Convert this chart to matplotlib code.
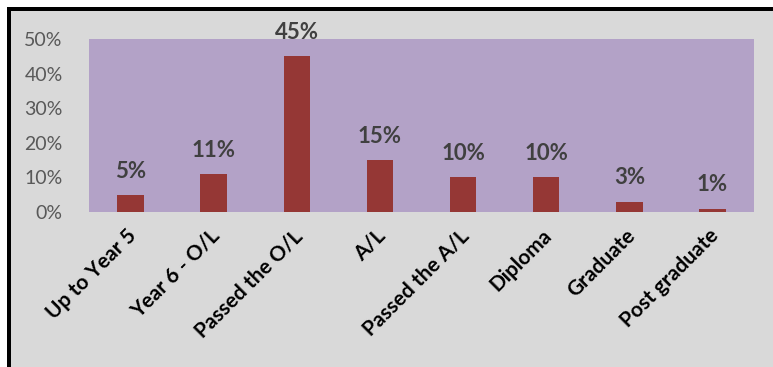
import matplotlib.pyplot as plt
from matplotlib.patches import Rectangle
from matplotlib.ticker import PercentFormatter
from matplotlib.transforms import ScaledTranslation

categories = ["Up to Year 5", "Year 6 - O/L", "Passed the O/L", "A/L",
              "Passed the A/L", "Diploma", "Graduate", "Post graduate"]
values = [5, 11, 45, 15, 10, 10, 3, 1]
yticks = [0, 10, 20, 30, 40, 50]

plt.rcParams['font.family'] = ['Lato', 'DejaVu Sans']

fig = plt.figure(figsize=(7.73, 3.67), dpi=100)
fig.patch.set_facecolor('white')

# grey chart area with the thick black edge on top and left
W, H = 773, 367
fig.patches.append(Rectangle((7 / W, 0), 1 - 7 / W, 1 - 7 / H, transform=fig.transFigure,
                             facecolor='black', edgecolor='none', zorder=-2))
fig.patches.append(Rectangle((11 / W, 0), 1 - 11 / W, 1 - 11 / H, transform=fig.transFigure,
                             facecolor='#D9D9D9', edgecolor='none', zorder=-1))

ax = fig.add_axes([89 / W, 1 - 212 / H, (754 - 89) / W, (212 - 39) / H])
ax.set_facecolor('#B3A2C7')

x = range(len(categories))
bars = ax.bar(x, values, width=0.32, color='#953735')

for b, v in zip(bars, values):
    ax.text(b.get_x() + b.get_width() / 2, v + 3.8, f"{v}%", ha='center', va='bottom',
            fontsize=16, fontweight='bold', color='#404040', clip_on=False)

ax.set_xlim(-0.5, len(categories) - 0.5)
ax.set_ylim(0, 50)
ax.set_yticks(yticks)
ax.yaxis.set_major_formatter(PercentFormatter(decimals=0))
ax.tick_params(axis='y', length=0, pad=19, labelsize=14, labelcolor='#595959')
ax.tick_params(axis='x', length=0, pad=6)
ax.set_xticks(list(x))
ax.set_xticklabels(categories, rotation=45, ha='right', va='center', rotation_mode='anchor',
                   fontsize=15, fontweight='bold', color='black')
for lbl in ax.get_xticklabels():
    lbl.set_transform(lbl.get_transform() + ScaledTranslation(2 / 72, -9 / 72, fig.dpi_scale_trans))
for s in ax.spines.values():
    s.set_visible(False)

fig.savefig('out.png', dpi=100)
